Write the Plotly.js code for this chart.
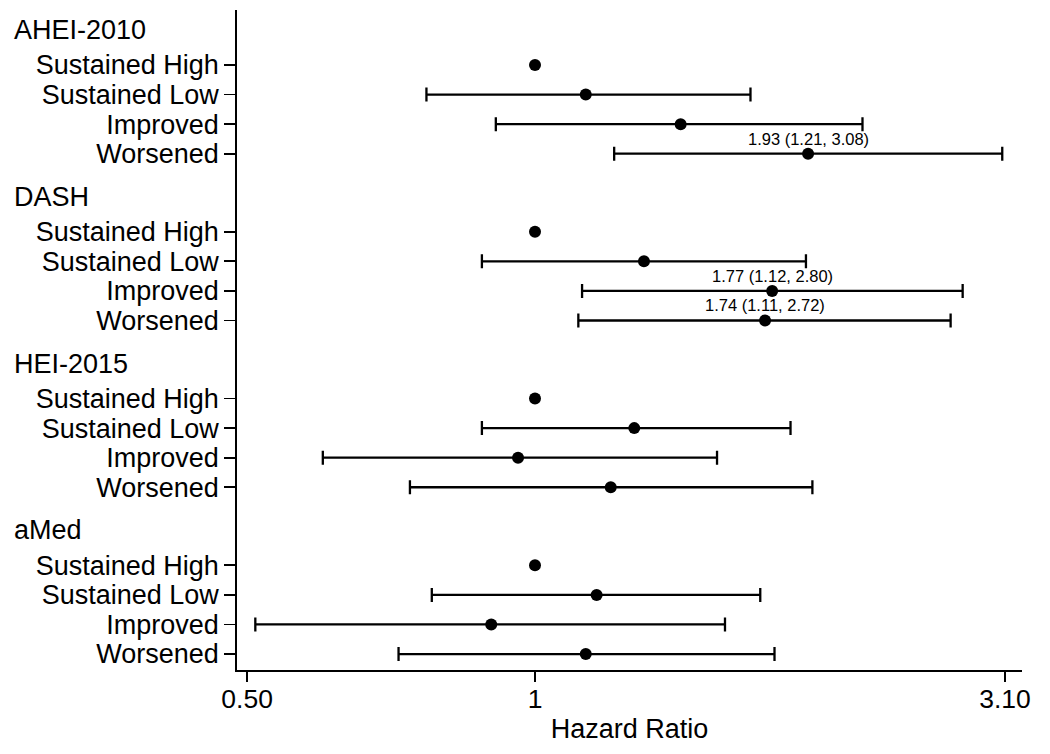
<!DOCTYPE html>
<html><head><meta charset="utf-8">
<script src="https://cdn.plot.ly/plotly-3.0.1.min.js"></script>
<style>body{margin:0;background:#fff}#chart{width:1050px;height:754px}</style>
</head><body><div id="chart"></div>
<script>
const groups = ["AHEI-2010", "DASH", "HEI-2015", "aMed"];
const categories = ["Sustained High", "Sustained Low", "Improved", "Worsened"];
// hazard ratios, lower and upper 95% CI, per group (rows in category order)
const hrAHEI = [1, 1.13, 1.42, 1.93];
const loAHEI = [1, 0.77, 0.91, 1.21];
const hiAHEI = [1, 1.68, 2.20, 3.08];
const hrDASH = [1, 1.30, 1.77, 1.74];
const loDASH = [1, 0.88, 1.12, 1.11];
const hiDASH = [1, 1.92, 2.80, 2.72];
const hrHEI = [1, 1.27, 0.96, 1.20];
const loHEI = [1, 0.88, 0.60, 0.74];
const hiHEI = [1, 1.85, 1.55, 1.95];
const hrMed = [1, 1.16, 0.90, 1.13];
const loMed = [1, 0.78, 0.51, 0.72];
const hiMed = [1, 1.72, 1.58, 1.78];
// significant results labelled on the chart
const labelAHEI = ["", "", "", "1.93 (1.21, 3.08)"];
const labelDASH = ["", "", "1.77 (1.12, 2.80)", "1.74 (1.11, 2.72)"];
const labelHEI = ["", "", "", ""];
const labelMed = ["", "", "", ""];
const xTickVals = [0.5, 1, 3.1];
const xTickText = ["0.50", "1", "3.10"];

const hrs = [hrAHEI, hrDASH, hrHEI, hrMed];
const los = [loAHEI, loDASH, loHEI, loMed];
const his = [hiAHEI, hiDASH, hiHEI, hiMed];
const labs = [labelAHEI, labelDASH, labelHEI, labelMed];

const GROUP_STEP = 5.64;
const xs = [], ys = [], ep = [], em = [], tv = [], tt = [];
const annotations = [];
const FONT = "Liberation Sans, Arial, Helvetica, sans-serif";
groups.forEach((g, gi) => {
  annotations.push({xref: "paper", yref: "y", x: (12 - 237) / 785, y: gi * GROUP_STEP - 1.18,
    text: g, showarrow: false, xanchor: "left", yanchor: "middle",
    font: {family: FONT, size: 27, color: "#000"}});
  categories.forEach((c, ci) => {
    const y = gi * GROUP_STEP + ci;
    const h = hrs[gi][ci], lo = los[gi][ci], hi = his[gi][ci];
    xs.push(h); ys.push(y);
    const hasCI = hi > lo;
    ep.push(hasCI ? hi - h : NaN);
    em.push(hasCI ? h - lo : NaN);
    tv.push(y); tt.push(c);
    if (labs[gi][ci]) {
      annotations.push({xref: "x", yref: "y", x: Math.log10(h), y: y,
        text: labs[gi][ci], showarrow: false, yanchor: "bottom", yshift: 4,
        font: {family: FONT, size: 16.5, color: "#000"}});
    }
  });
});

const ciTrace = {
  type: "scatter", mode: "markers", x: xs, y: ys,
  marker: {size: 12, color: "#000"},
  error_x: {type: "data", symmetric: false, array: ep, arrayminus: em,
    color: "#000", thickness: 2.3, width: 7},
  hoverinfo: "x+y", showlegend: false
};

const layout = {
  width: 1050, height: 754,
  margin: {l: 237, r: 28, t: 10, b: 84},
  paper_bgcolor: "#fff", plot_bgcolor: "#fff",
  font: {family: FONT, color: "#000"},
  xaxis: {type: "log", range: [Math.log10(0.488), Math.log10(3.23)],
    tickvals: xTickVals, ticktext: xTickText, ticks: "outside", ticklen: 10, tickwidth: 1.8,
    ticklabelstandoff: -6,
    tickcolor: "#000", showline: true, linecolor: "#000", linewidth: 1.8,
    showgrid: false, zeroline: false, tickfont: {size: 26.5, family: FONT},
    title: {text: "Hazard Ratio", font: {size: 27, family: FONT}, standoff: 6}},
  yaxis: {range: [3 * GROUP_STEP + 3 + 0.54, -1.86], tickvals: tv, ticktext: tt,
    ticks: "outside", ticklen: 11, tickwidth: 1.8, tickcolor: "#000",
    showline: true, linecolor: "#000", linewidth: 1.8, showgrid: false, zeroline: false,
    tickfont: {size: 27, family: FONT}},
  shapes: [{type: "line", xref: "x", yref: "paper", x0: 0, x1: 0, y0: 0, y1: 1,
    line: {color: "#c8102e", width: 2.2}, layer: "below"}],
  annotations: annotations
};

Plotly.newPlot("chart", [ciTrace], layout, {displayModeBar: false, staticPlot: true});
</script></body></html>
